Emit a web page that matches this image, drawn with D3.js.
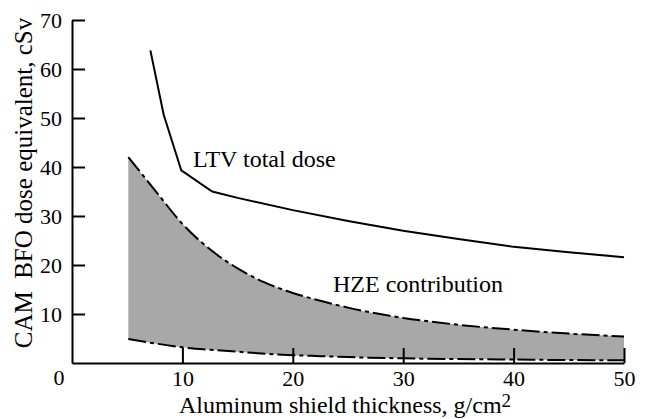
<!DOCTYPE html>
<html>
<head>
<meta charset="utf-8">
<script src="https://cdn.jsdelivr.net/npm/d3@7"></script>
<style>
  body { margin: 0; background: #fff; }
  svg text { font-family: "Liberation Serif", "DejaVu Serif", serif; fill: #000; }
</style>
</head>
<body>
<svg id="chart"></svg>
<script>
// data
const ltvX = [7.1, 8.3, 9.9, 12.7, 15, 20, 25, 30, 35, 40, 45, 50];
const ltvY = [63.8, 50.7, 39.3, 35.0, 33.7, 31.2, 29.0, 27.0, 25.3, 23.7, 22.6, 21.6];

const hzeX = [5.1, 7.5, 10, 12.5, 15, 17.5, 20, 22.5, 25, 30, 35, 40, 45, 50];
const hzeUpper = [42, 35.3, 28.4, 23.2, 19.3, 16.4, 14.3, 12.7, 11.3, 9.2, 7.8, 6.8, 6.0, 5.4];
const hzeLower = [4.9, 4.0, 3.2, 2.7, 2.3, 1.9, 1.6, 1.4, 1.2, 0.95, 0.8, 0.7, 0.6, 0.55];

const xTicks = [10, 20, 30, 40, 50];
const yTicks = [10, 20, 30, 40, 50, 60, 70];

const width = 646, height = 419;
const margin = { top: 20, left: 72, bottom: 56, right: 22 };
const font = "'Liberation Serif', 'DejaVu Serif', serif";

const svg = d3.select("#chart").attr("width", width).attr("height", height)
  .style("font-family", font);

const x = d3.scaleLinear().domain([0, 50]).range([margin.left, width - margin.right]);
const y = d3.scaleLinear().domain([0, 70]).range([height - margin.bottom, margin.top]);

// shaded HZE band
const band = hzeX.map((d, i) => ({ x: d, lo: hzeLower[i], hi: hzeUpper[i] }));
svg.append("path")
  .datum(band)
  .attr("fill", "#a8a8a8")
  .attr("d", d3.area().x(d => x(d.x)).y0(d => y(d.lo)).y1(d => y(d.hi)).curve(d3.curveMonotoneX));

const dashed = d3.line().x(d => x(d[0])).y(d => y(d[1])).curve(d3.curveMonotoneX);
[hzeUpper, hzeLower].forEach(vals => {
  svg.append("path")
    .datum(hzeX.map((d, i) => [d, vals[i]]))
    .attr("fill", "none")
    .attr("stroke", "#000")
    .attr("stroke-width", 2)
    .attr("stroke-dasharray", "18,4,4,4")
    .attr("d", dashed);
});

// LTV total dose
svg.append("path")
  .datum(ltvX.map((d, i) => [d, ltvY[i]]))
  .attr("fill", "none")
  .attr("stroke", "#000")
  .attr("stroke-width", 2)
  .attr("d", d3.line().x(d => x(d[0])).y(d => y(d[1])));

// axes
const xAxis = svg.append("g")
  .attr("transform", `translate(0,${y(0)})`)
  .call(d3.axisBottom(x).tickValues(xTicks).tickSizeInner(-15).tickSizeOuter(0).tickPadding(7));
const yAxis = svg.append("g")
  .attr("transform", `translate(${x(0)},0)`)
  .call(d3.axisLeft(y).tickValues(yTicks).tickSizeInner(-13).tickSizeOuter(0).tickPadding(10));

[xAxis, yAxis].forEach(g => {
  g.attr("font-family", null).attr("font-size", 22);
  g.selectAll("path, line").attr("stroke", "#000").attr("stroke-width", 2);
  g.selectAll("text").style("font-family", font).attr("font-size", 22).attr("fill", "#000");
});
xAxis.selectAll("text").attr("dy", "0.71em");

svg.append("text")
  .attr("x", x(0) - 13)
  .attr("y", y(0) + 22)
  .attr("text-anchor", "middle")
  .attr("font-size", 22)
  .text("0");

// axis titles
const xTitle = svg.append("text")
  .attr("x", 345)
  .attr("y", 413)
  .attr("text-anchor", "middle")
  .attr("font-size", 24);
xTitle.append("tspan").text("Aluminum shield thickness, g/cm");
xTitle.append("tspan").attr("dy", -6).attr("font-size", 19).text("2");

svg.append("text")
  .attr("transform", "rotate(-90)")
  .attr("x", -183)
  .attr("y", 32)
  .attr("text-anchor", "middle")
  .attr("font-size", 25)
  .style("white-space", "pre")
  .text("CAM  BFO dose equivalent, cSv");

// curve labels
svg.append("text")
  .attr("x", 193)
  .attr("y", 167)
  .attr("font-size", 24)
  .text("LTV total dose");

svg.append("text")
  .attr("x", 333)
  .attr("y", 292)
  .attr("font-size", 24)
  .text("HZE contribution");
</script>
</body>
</html>
